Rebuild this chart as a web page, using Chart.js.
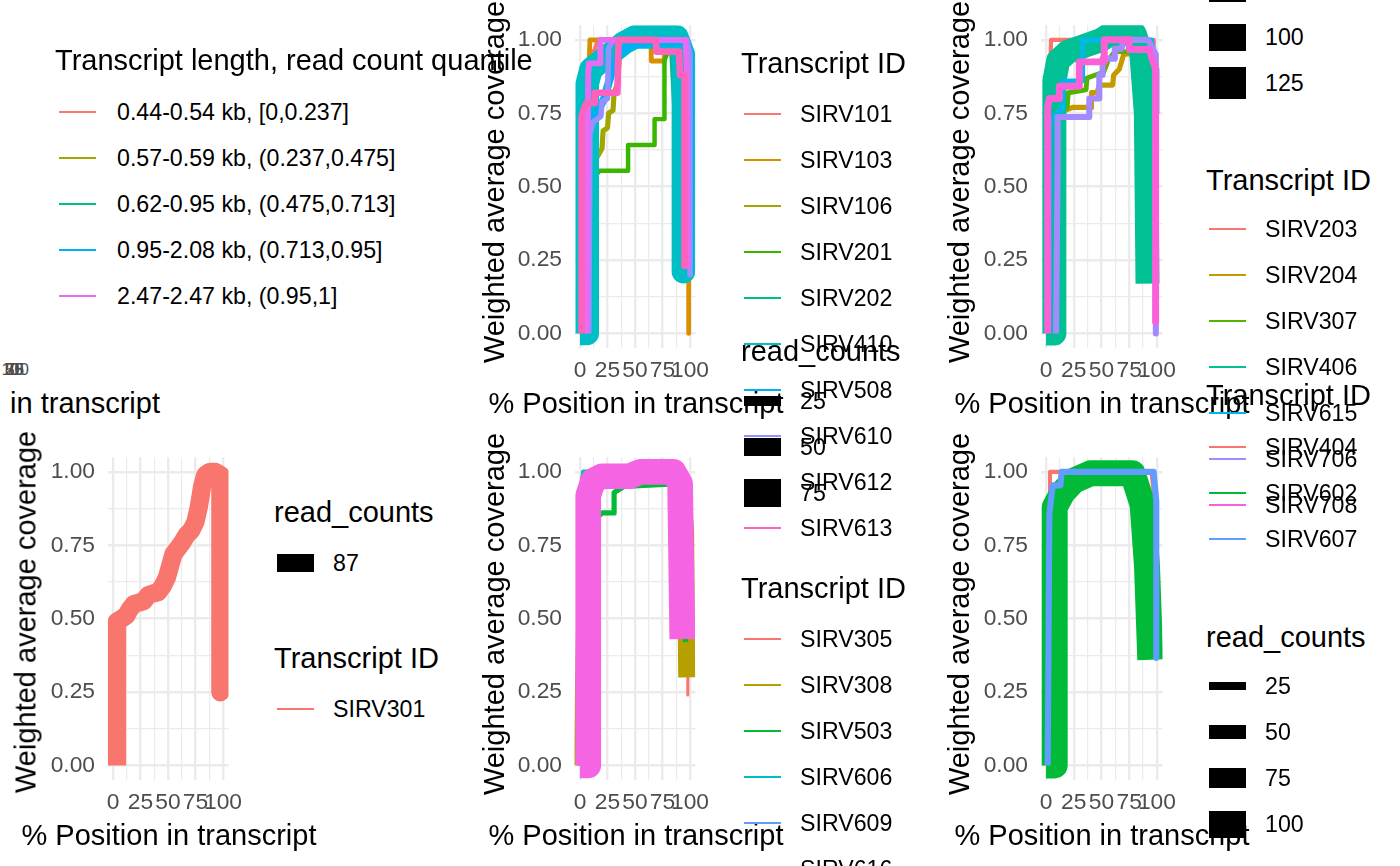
<!DOCTYPE html>
<html>
<head>
<meta charset="utf-8">
<script src="https://cdn.jsdelivr.net/npm/chart.js@4.4.1/dist/chart.umd.min.js"></script>
<style>
html,body{margin:0;padding:0;background:#fff;width:1400px;height:866px;overflow:hidden;}
#root{position:relative;width:1400px;height:866px;overflow:hidden;font-family:'Liberation Sans',Arial,Helvetica,sans-serif;}
.t{position:absolute;white-space:nowrap;line-height:1;}
.k{position:absolute;}
.clip{position:absolute;overflow:hidden;}
canvas{position:absolute;}
</style>
</head>
<body>
<div id="root"></div>
<script>
// ---------------- DATA ----------------
// axis ticks
const X_TICKS = [0, 25, 50, 75, 100];
const X_TICK_LABELS = ['0', '25', '50', '75', '100'];
const X_MINOR = [12.5, 37.5, 62.5, 87.5];
const Y_TICKS = [0, 0.25, 0.5, 0.75, 1];
const Y_TICK_LABELS = ['0.00', '0.25', '0.50', '0.75', '1.00'];
const Y_MINOR = [0.125, 0.375, 0.625, 0.875];

// quantile legend (top-left)
const QUANTILE_LABELS = ['0.44-0.54 kb, [0,0.237]', '0.57-0.59 kb, (0.237,0.475]', '0.62-0.95 kb, (0.475,0.713]', '0.95-2.08 kb, (0.713,0.95]', '2.47-2.47 kb, (0.95,1]'];

// panel 1 (top middle)
const P1_ids = ['SIRV101', 'SIRV103', 'SIRV106', 'SIRV201', 'SIRV202', 'SIRV410', 'SIRV508', 'SIRV610', 'SIRV612', 'SIRV613'];
const P1_reads = [10, 12, 13, 11, 26, 64, 21, 14, 15, 17];
// panel 2 (top right)
const P2_ids = ['SIRV203', 'SIRV204', 'SIRV307', 'SIRV406', 'SIRV615', 'SIRV706', 'SIRV708'];
const P2_reads = [1, 5, 4, 87, 4, 9, 13];
const P2_breaks = [75, 100, 125];
// panel 3 (bottom left)
const P3_ids = ['SIRV301'];
const P3_reads = [87];
const P3_breaks = [87];
// panel 4 (bottom middle)
const P4_ids = ['SIRV305', 'SIRV308', 'SIRV503', 'SIRV606', 'SIRV609', 'SIRV616'];
const P4_reads = [7, 46, 13, 12, 10, 70];
const P4_breaks = [25, 50, 75];
// panel 5 (bottom right)
const P5_ids = ['SIRV404', 'SIRV602', 'SIRV607'];
const P5_reads = [10, 96, 18];
const P5_breaks = [25, 50, 75, 100];

// coverage profiles: % position in transcript, weighted average coverage
const SIRV101_pos = [2, 3, 10, 13.5, 16, 95, 99];
const SIRV101_cov = [0, 0.9, 0.95, 0.967, 1.0, 1.0, 0.22];
const SIRV103_pos = [7, 8, 9, 64.8, 64.8, 76.8, 76.8, 96, 98.8, 98.8];
const SIRV103_cov = [0, 0.88, 1.0, 1.0, 0.928, 0.928, 1.0, 1.0, 0.4, 0];
const SIRV106_pos = [3, 4, 8, 20, 21, 25, 26, 30, 31, 34, 36, 40, 97, 99];
const SIRV106_cov = [0, 0.3, 0.55, 0.63, 0.69, 0.7, 0.75, 0.76, 0.82, 0.85, 0.95, 1.0, 1.0, 0.3];
const SIRV201_pos = [4, 5, 18, 43.7, 43.7, 67.8, 67.8, 76.8, 76.8, 80, 96, 98];
const SIRV201_cov = [0, 0.5, 0.554, 0.554, 0.642, 0.642, 0.73, 0.73, 0.93, 0.96, 0.96, 0.19];
const SIRV202_pos = [0, 5, 6, 20, 40, 85, 92, 93];
const SIRV202_cov = [0, 0, 0.88, 0.93, 0.99, 1.0, 0.5, 0.22];
const SIRV410_pos = [0, 6.6, 6.6, 10, 20, 30, 40, 50, 88, 94, 94];
const SIRV410_cov = [0, 0, 0.85, 0.9, 0.93, 0.96, 0.99, 1.01, 1.01, 0.95, 0.21];
const SIRV508_pos = [3, 4, 8, 15, 22, 28, 35, 45, 60, 97, 100, 100];
const SIRV508_cov = [0, 0.55, 0.7, 0.75, 0.8, 0.88, 0.95, 0.98, 0.99, 0.99, 0.95, 0.21];
const SIRV610_pos = [8, 9, 12, 19, 20, 25, 26, 30, 97, 100, 100];
const SIRV610_cov = [0, 0.68, 0.72, 0.74, 0.79, 0.8, 0.97, 1.0, 1.0, 0.95, 0.2];
const SIRV612_pos = [6, 7.5, 8, 18.5, 18.5, 96, 97, 98];
const SIRV612_cov = [0, 0.9, 0.92, 0.92, 1.0, 1.0, 0.9, 0.22];
const SIRV613_pos = [1.5, 1.5, 4, 6, 13, 13.5, 34, 35, 69, 69.5, 90, 91, 95, 95];
const SIRV613_cov = [0, 0.74, 0.77, 0.785, 0.785, 0.82, 0.82, 1.0, 1.0, 0.96, 0.96, 0.88, 0.88, 0.23];

const SIRV203_pos = [3.9, 3.9, 4.5, 97, 98.5];
const SIRV203_cov = [0, 0.92, 1.0, 1.0, 0.05];
const SIRV204_pos = [4, 5, 24, 41, 41, 46, 48, 60, 61, 66, 70, 90, 97];
const SIRV204_cov = [0, 0.74, 0.77, 0.77, 0.82, 0.82, 0.846, 0.846, 0.88, 0.9, 0.95, 0.96, 0.3];
const SIRV307_pos = [4, 5, 19, 20, 36, 37, 52, 56, 62, 90, 96];
const SIRV307_cov = [0, 0.74, 0.77, 0.82, 0.83, 0.87, 0.89, 0.93, 0.96, 0.96, 0.2];
const SIRV406_pos = [0, 7.5, 7.5, 11, 20, 35, 50, 58, 80, 86, 90, 91.5];
const SIRV406_cov = [0, 0, 0.86, 0.93, 0.96, 0.98, 1.0, 1.02, 1.02, 0.95, 0.75, 0.17];
const SIRV615_pos = [3, 4, 12, 15, 15, 33, 33, 60, 95, 100, 100];
const SIRV615_cov = [0, 0.72, 0.76, 0.76, 0.86, 0.86, 1.0, 1.0, 1.0, 0.9, 0.75];
const SIRV706_pos = [9, 10.5, 10.5, 39, 39, 48, 48, 51, 51, 62, 62, 68, 70, 92, 99, 99];
const SIRV706_cov = [0, 0.594, 0.737, 0.737, 0.8, 0.8, 0.88, 0.88, 0.936, 0.936, 0.97, 0.97, 1.0, 1.0, 0.95, 0];
const SIRV708_pos = [1.5, 1.5, 3, 12, 12, 30, 30, 52.5, 52.5, 75, 75, 93, 98.8, 98.8];
const SIRV708_cov = [0, 0.77, 0.8, 0.8, 0.842, 0.842, 0.925, 0.925, 1.0, 1.0, 0.967, 0.967, 0.9, 0.04];

const SIRV301_pos = [3.6, 3.6, 8, 12, 15, 19, 24, 28, 32, 36, 41, 45, 49, 52, 55, 59, 63, 67, 71, 75, 78, 81, 84, 88, 93, 97.6, 97.6];
const SIRV301_cov = [0, 0.49, 0.5, 0.51, 0.53, 0.55, 0.555, 0.56, 0.58, 0.585, 0.59, 0.61, 0.64, 0.68, 0.72, 0.74, 0.76, 0.785, 0.8, 0.83, 0.88, 0.95, 0.99, 1.0, 1.0, 0.99, 0.249];

const SIRV305_pos = [1, 4, 10, 95, 98, 98];
const SIRV305_cov = [0, 0.9, 0.97, 0.97, 0.5, 0.24];
const SIRV308_pos = [2, 6, 8, 92, 96, 97];
const SIRV308_cov = [0, 0.9, 0.98, 0.98, 0.8, 0.3];
const SIRV503_pos = [1, 4, 20, 31, 31, 40, 90, 95, 96];
const SIRV503_cov = [0, 0.8, 0.86, 0.86, 0.93, 0.95, 0.96, 0.5, 0.42];
const SIRV606_pos = [1, 2.5, 3, 20, 90, 94, 95];
const SIRV606_cov = [0, 0.95, 1.0, 1.0, 1.0, 0.5, 0.45];
const SIRV609_pos = [0, 1, 3, 10, 90, 95];
const SIRV609_cov = [0.04, 0.01, 0.9, 0.98, 0.98, 0.45];
const SIRV616_pos = [0, 7.5, 7.5, 12, 20, 45, 55, 85, 91, 93];
const SIRV616_cov = [0, 0, 0.92, 0.97, 0.985, 0.985, 1.0, 1.0, 0.96, 0.43];

const SIRV404_pos = [3.6, 3.6, 15, 95, 98, 99];
const SIRV404_cov = [0, 1.0, 1.0, 1.0, 0.9, 0.37];
const SIRV602_pos = [0, 7.8, 7.8, 15, 25, 40, 78, 87, 91, 94];
const SIRV602_cov = [0, 0, 0.88, 0.93, 0.97, 0.995, 0.995, 0.89, 0.68, 0.36];
const SIRV607_pos = [1.5, 3, 6, 13, 14, 97, 99.4, 99.4];
const SIRV607_cov = [0, 0.855, 0.954, 0.954, 1.0, 1.0, 0.9, 0.366];

// lookup built from the arrays above
const SERIES = {
  SIRV101: [SIRV101_pos, SIRV101_cov], SIRV103: [SIRV103_pos, SIRV103_cov], SIRV106: [SIRV106_pos, SIRV106_cov],
  SIRV201: [SIRV201_pos, SIRV201_cov], SIRV202: [SIRV202_pos, SIRV202_cov], SIRV410: [SIRV410_pos, SIRV410_cov],
  SIRV508: [SIRV508_pos, SIRV508_cov], SIRV610: [SIRV610_pos, SIRV610_cov], SIRV612: [SIRV612_pos, SIRV612_cov],
  SIRV613: [SIRV613_pos, SIRV613_cov],
  SIRV203: [SIRV203_pos, SIRV203_cov], SIRV204: [SIRV204_pos, SIRV204_cov], SIRV307: [SIRV307_pos, SIRV307_cov],
  SIRV406: [SIRV406_pos, SIRV406_cov], SIRV615: [SIRV615_pos, SIRV615_cov], SIRV706: [SIRV706_pos, SIRV706_cov],
  SIRV708: [SIRV708_pos, SIRV708_cov],
  SIRV301: [SIRV301_pos, SIRV301_cov],
  SIRV305: [SIRV305_pos, SIRV305_cov], SIRV308: [SIRV308_pos, SIRV308_cov], SIRV503: [SIRV503_pos, SIRV503_cov],
  SIRV606: [SIRV606_pos, SIRV606_cov], SIRV609: [SIRV609_pos, SIRV609_cov], SIRV616: [SIRV616_pos, SIRV616_cov],
  SIRV404: [SIRV404_pos, SIRV404_cov], SIRV602: [SIRV602_pos, SIRV602_cov], SIRV607: [SIRV607_pos, SIRV607_cov]
};

// ---------------- STYLE ----------------
const FONT = "'Liberation Sans', Arial, Helvetica, sans-serif";
const TITLE_SIZE = 29;
const TEXT_SIZE = 23.2;
const TICK_SIZE = 22.8;
const GRID = '#EBEBEB';
const QUANT_COLORS = ['#F8766D', '#A3A500', '#00BF7D', '#00B0F6', '#E76BF3'];
const HUE10 = ['#F8766D', '#D89000', '#A3A500', '#39B600', '#00BF7D', '#00BFC4', '#00B0F6', '#9590FF', '#E76BF3', '#FF62BC'];
const HUE7 = ['#F8766D', '#C49A00', '#53B400', '#00C094', '#00B6EB', '#A58AFF', '#FB61D7'];
const HUE6 = ['#F8766D', '#B79F00', '#00BA38', '#00BFC4', '#619CFF', '#F564E3'];
const HUE3 = ['#F8766D', '#00BA38', '#619CFF'];
const HUE1 = ['#F8766D'];

Chart.defaults.font.family = FONT;
const root = document.getElementById('root');

function addText(str, x, yc, size, opts) {
  opts = opts || {};
  const d = document.createElement('div');
  d.className = 't';
  d.textContent = str;
  d.style.fontSize = size + 'px';
  d.style.color = opts.color || '#000';
  d.style.top = (yc - 0.4885 * size) + 'px';
  if (opts.anchor === 'center') { d.style.left = x + 'px'; d.style.transform = 'translateX(-50%)'; }
  else if (opts.anchor === 'right') { d.style.left = x + 'px'; d.style.transform = 'translateX(-100%)'; }
  else d.style.left = x + 'px';
  (opts.parent || root).appendChild(d);
  return d;
}
function addVText(str, cx, cy, size) {
  const d = document.createElement('div');
  d.className = 't';
  d.textContent = str;
  d.style.fontSize = size + 'px';
  d.style.color = '#000';
  d.style.left = cx + 'px';
  d.style.top = cy + 'px';
  d.style.transform = 'translate(-50%,-50%) rotate(-90deg)';
  root.appendChild(d);
}
function addKey(x0, x1, yc, h, color) {
  const d = document.createElement('div');
  d.className = 'k';
  d.style.left = x0 + 'px';
  d.style.width = (x1 - x0) + 'px';
  d.style.top = (yc - h / 2) + 'px';
  d.style.height = h + 'px';
  d.style.background = color;
  root.appendChild(d);
}

// panels: chart-area rectangles (px) and line-width mapping for read counts
const PANELS = [
  {ids: P1_ids, reads: P1_reads, colors: HUE10, L: 574.5, R: 695.5, T: 15.9, B: 348.1, lw: [0.5, 0.36]},
  {ids: P2_ids, reads: P2_reads, colors: HUE7, L: 1040.5, R: 1162.5, T: 15.9, B: 348.1, lw: [4, 0.23]},
  {ids: P3_ids, reads: P3_reads, colors: HUE1, L: 107.5, R: 228.5, T: 447.9, B: 780.1, lw: [0, 0.21]},
  {ids: P4_ids, reads: P4_reads, colors: HUE6, L: 574.5, R: 695.5, T: 447.9, B: 780.1, lw: [0.5, 0.36]},
  {ids: P5_ids, reads: P5_reads, colors: HUE3, L: 1040.5, R: 1162.5, T: 447.9, B: 780.1, lw: [1.5, 0.255]}
];
const lineWidth = (p, v) => p.lw[0] + p.lw[1] * v;

function makePanel(p) {
  const cl = Math.floor(p.L) - 75, ct = Math.floor(p.T) - 16;
  const cw = Math.ceil(p.R) + 35 - cl, ch = Math.ceil(p.B) + 50 - ct;
  const cv = document.createElement('canvas');
  cv.width = cw; cv.height = ch;
  cv.style.left = cl + 'px'; cv.style.top = ct + 'px';
  cv.style.width = cw + 'px'; cv.style.height = ch + 'px';
  root.appendChild(cv);
  const yW = p.L - cl;
  const xH = ch - (p.B - ct);
  const datasets = p.ids.map((id, i) => {
    const s = SERIES[id];
    return {
      label: id,
      data: s[0].map((x, j) => ({x: x, y: s[1][j]})),
      borderColor: p.colors[i],
      backgroundColor: p.colors[i],
      borderWidth: lineWidth(p, p.reads[i]),
      borderJoinStyle: 'round',
      borderCapStyle: 'butt',
      pointRadius: 0,
      pointHitRadius: 0,
      tension: 0,
      fill: false,
      clip: 0,
      order: -i
    };
  });
  const tickFont = {family: FONT, size: TICK_SIZE};
  new Chart(cv, {
    type: 'line',
    data: {datasets: datasets},
    options: {
      responsive: false,
      animation: false,
      devicePixelRatio: 1,
      events: [],
      layout: {padding: {left: 0, top: p.T - ct, right: cw - (p.R - cl), bottom: 0}},
      plugins: {legend: {display: false}, tooltip: {enabled: false}},
      scales: {
        x: {
          type: 'linear', min: -5, max: 105, bounds: 'data',
          afterFit: (s) => { s.height = xH; },
          afterBuildTicks: (s) => { s.ticks = X_TICKS.concat(X_MINOR).sort((a, b) => a - b).map(v => ({value: v})); },
          grid: {color: GRID, drawTicks: false, lineWidth: (c) => (c.tick && X_TICKS.includes(c.tick.value)) ? 2.4 : 1.2},
          border: {display: false},
          ticks: {
            autoSkip: false, maxRotation: 0, minRotation: 0, padding: 9, color: '#4D4D4D', font: tickFont,
            callback: (v) => { const k = X_TICKS.indexOf(v); return k >= 0 ? X_TICK_LABELS[k] : ''; }
          }
        },
        y: {
          type: 'linear', min: -0.05, max: 1.05, bounds: 'data',
          afterFit: (s) => { s.width = yW; },
          afterBuildTicks: (s) => { s.ticks = Y_TICKS.concat(Y_MINOR).sort((a, b) => a - b).map(v => ({value: v})); },
          grid: {color: GRID, drawTicks: false, lineWidth: (c) => (c.tick && Y_TICKS.includes(c.tick.value)) ? 2.4 : 1.2},
          border: {display: false},
          ticks: {
            autoSkip: false, padding: 12.5, color: '#4D4D4D', font: tickFont,
            callback: (v) => { const k = Y_TICKS.indexOf(v); return k >= 0 ? Y_TICK_LABELS[k] : ''; }
          }
        }
      }
    }
  });
}
PANELS.forEach(makePanel);

// ---------------- TEXT LAYER ----------------
// remnants of a collapsed first panel (top-left)
X_TICK_LABELS.forEach((lab, i) => addText(lab, 14 + 0.3 * i, 369, 16.5, {color: '#4D4D4D', anchor: 'center'}));
const clipBox = document.createElement('div');
clipBox.className = 'clip';
clipBox.style.left = '8px'; clipBox.style.top = '380px';
clipBox.style.width = '300px'; clipBox.style.height = '50px';
root.appendChild(clipBox);
addText('% Position in transcript', 160 - 8, 403 - 380, TITLE_SIZE, {anchor: 'right', parent: clipBox});

// quantile legend
addText('Transcript length, read count quantile', 55, 60, TITLE_SIZE);
QUANTILE_LABELS.forEach((lab, i) => {
  const y = 112 + 46 * i;
  addKey(59, 96, y, 2.8, QUANT_COLORS[i]);
  addText(lab, 117, y, TEXT_SIZE);
});

// axis titles
const xTitleSpots = [[636, 403], [1102, 403], [169, 835], [636, 835], [1102, 835]];
xTitleSpots.forEach(s => addText('% Position in transcript', s[0], s[1], TITLE_SIZE, {anchor: 'center'}));
const yTitleSpots = [[493.5, 182], [958.5, 182], [25.5, 612], [493.5, 614], [958.5, 614]];
yTitleSpots.forEach(s => addVText('Weighted average coverage', s[0], s[1], TITLE_SIZE));

function idLegend(ids, colors, titleX, titleY, firstY) {
  addText('Transcript ID', titleX, titleY, TITLE_SIZE);
  ids.forEach((id, i) => {
    const y = firstY + 46 * i;
    addKey(titleX + 3, titleX + 40, y, 2.8, colors[i]);
    addText(id, titleX + 59, y, TEXT_SIZE);
  });
}
function sizeLegend(p, breaks, titleX, titleY, firstY, showTitle) {
  if (showTitle) addText('read_counts', titleX, titleY, TITLE_SIZE);
  breaks.forEach((b, i) => {
    const y = firstY + 46 * i;
    addKey(titleX + 3, titleX + 40, y, lineWidth(p, b), '#000');
    addText(String(b), titleX + 59, y, TEXT_SIZE);
  });
}
// panel 1 legend
idLegend(P1_ids, HUE10, 741, 63, 114);
// panel 4 legend
sizeLegend(PANELS[3], P4_breaks, 741, 351, 401, true);
idLegend(P4_ids, HUE6, 741, 588, 639);
// panel 2 legend
sizeLegend(PANELS[1], P2_breaks, 1206, -100, -9, false);
idLegend(P2_ids, HUE7, 1206, 180, 229);
// panel 5 legend
idLegend(P5_ids, HUE3, 1206, 395, 447);
sizeLegend(PANELS[4], P5_breaks, 1206, 637, 686, true);
// panel 3 legend
sizeLegend(PANELS[2], P3_breaks, 274, 512, 563, true);
idLegend(P3_ids, HUE1, 274, 658, 709);
</script>
</body>
</html>
